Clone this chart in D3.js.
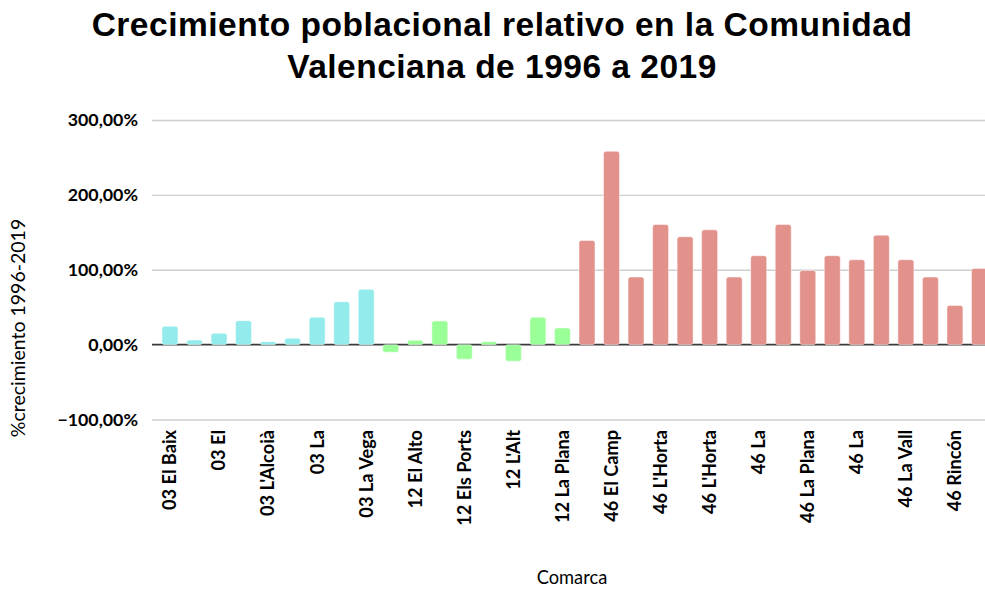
<!DOCTYPE html>
<html>
<head>
<meta charset="utf-8">
<script src="https://cdn.jsdelivr.net/npm/d3@7"></script>
<style>
  html, body { margin: 0; padding: 0; background: #fff; overflow: hidden; }
  svg { display: block; }
</style>
</head>
<body>
<svg id="chart" width="985" height="592"></svg>
<script>
// ---- data ----
const provinces = ["03","03","03","03","03","03","03","03","03",
                   "12","12","12","12","12","12","12","12",
                   "46","46","46","46","46","46","46","46","46","46","46","46","46","46","46","46","46"];
const tickLabels = ["03 El Baix","","03 El","","03 L'Alcoià","","03 La","","03 La Vega",
                    "","12 El Alto","","12 Els Ports","","12 L'Alt","","12 La Plana",
                    "","46 El Camp","","46 L'Horta","","46 L'Horta","","46 La","","46 La Plana",
                    "","46 La","","46 La Vall","","46 Rincón",""];
const growth = [24.4, 6.2, 15.1, 32.0, 4.0, 8.4, 36.4, 57.3, 73.8,
                -10.2, 5.8, 31.6, -19.6, 4.0, -22.2, 36.4, 22.2,
                139.1, 258.2, 90.2, 160.4, 144.0, 153.3, 90.2, 118.7, 160.4,
                99.1, 118.7, 113.3, 146.2, 113.3, 90.2, 52.4, 101.8];
const yTicks = [-100, 0, 100, 200, 300];
const provinceColors = {"03": "#93ECEB", "12": "#9BFF98", "46": "#E2918B"};

const title = ["Crecimiento poblacional relativo en la Comunidad", "Valenciana de 1996 a 2019"];
const yTitle = "%crecimiento 1996-2019";
const xTitle = "Comarca";

// ---- layout ----
const svg = d3.select("#chart");
const left = 152, step = 24.53, pIn = 0.35, pOut = 0.408;
const n = growth.length;
const right = left + step * (n - pIn + 2 * pOut);

const x = d3.scaleBand().domain(d3.range(n)).range([left, right])
  .paddingInner(pIn).paddingOuter(pOut);
const y = d3.scaleLinear().domain([-100, 300]).range([419.5, 120]);

const locale = d3.formatLocale({decimal: ",", thousands: ".", grouping: [3], currency: ["", "€"]});
const fmt = v => locale.format(".2f")(v) + "%";

const sans = "Lato, 'Open Sans', sans-serif";

// title
svg.append("text")
  .attr("x", 502).attr("y", 36)
  .attr("text-anchor", "middle")
  .attr("font-family", "'Liberation Sans', Arial, sans-serif")
  .attr("font-weight", "bold").attr("font-size", 33.5).attr("letter-spacing", 0.5).attr("fill", "#000")
  .selectAll("tspan").data(title).join("tspan")
  .attr("x", 502).attr("dy", (d, i) => i === 0 ? 0 : 42)
  .text(d => d);

// gridlines
const yAxis = d3.axisLeft(y).tickValues(yTicks).tickSize(-(right - left)).tickFormat(fmt).tickPadding(14);
const gy = svg.append("g").attr("transform", `translate(${left},0)`).call(yAxis);
gy.select(".domain").remove();
gy.selectAll(".tick line").attr("stroke", d => d === 0 ? "none" : "#cfcfcf").attr("stroke-width", 1.3);
gy.selectAll(".tick text")
  .attr("font-family", sans).attr("font-weight", "bold").attr("font-size", 17.8).attr("fill", "#000");

// zero line
svg.append("line")
  .attr("x1", left).attr("x2", right)
  .attr("y1", y(0)).attr("y2", y(0))
  .attr("stroke", "#3a3a3a").attr("stroke-width", 1.6);

// bars
svg.append("g").selectAll("rect").data(growth).join("rect")
  .attr("x", (d, i) => x(i))
  .attr("width", x.bandwidth())
  .attr("y", d => y(Math.max(0, d)))
  .attr("height", d => Math.abs(y(d) - y(0)))
  .attr("rx", 2.5).attr("ry", 2.5)
  .attr("fill", (d, i) => provinceColors[provinces[i]])
  .attr("stroke", "rgba(255,255,255,0.45)").attr("stroke-width", 1);

// x labels
const xAxis = d3.axisBottom(x).tickSize(0).tickPadding(0).tickFormat(i => tickLabels[i]);
const gx = svg.append("g").attr("transform", "translate(0,430)").call(xAxis);
gx.select(".domain").remove();
gx.selectAll(".tick text")
  .attr("transform", "rotate(-90)")
  .attr("text-anchor", "end")
  .attr("x", 0).attr("y", 0).attr("dy", "0.35em")
  .attr("font-family", sans).attr("font-weight", "bold").attr("font-size", 18.2).attr("fill", "#000");

// axis titles
svg.append("text")
  .attr("transform", "translate(25,328) rotate(-90)")
  .attr("text-anchor", "middle")
  .attr("font-family", sans).attr("font-size", 19.5).attr("fill", "#000")
  .text(yTitle);
svg.append("text")
  .attr("x", 572).attr("y", 584)
  .attr("text-anchor", "middle")
  .attr("font-family", sans).attr("font-size", 18.3).attr("fill", "#000")
  .text(xTitle);
</script>
</body>
</html>
